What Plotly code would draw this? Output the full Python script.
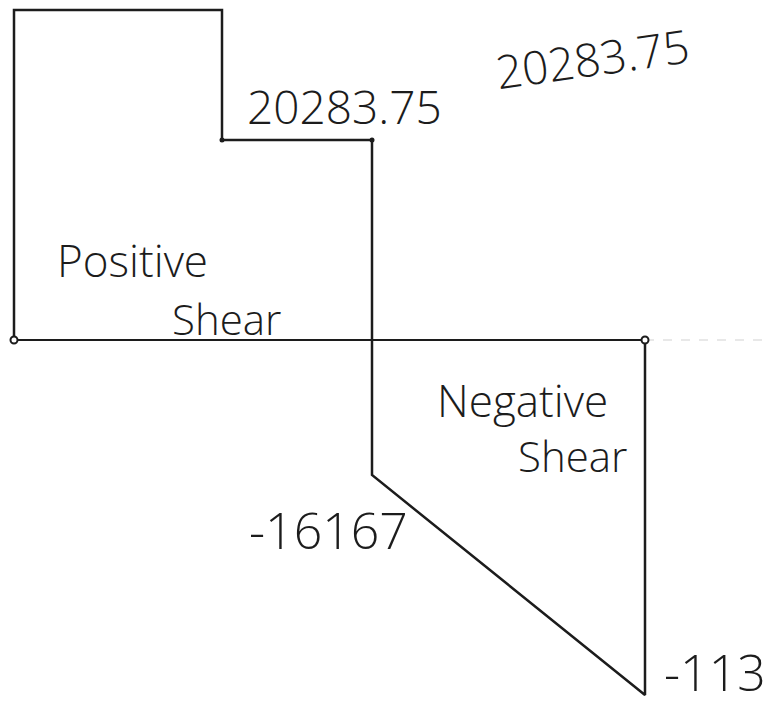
import plotly.graph_objects as go

# Beam stations (distance from the left support, drawing units)
stations = [0, 208, 358, 631]
# Shear levels of the sketch (drawing units, positive up)
shear_left = 330       # first span
shear_step = 200       # after the first drop
shear_jump = -135      # just right of the third station
shear_end = -355       # at the right support
baseline_extension = 125

value_labels = ["20283.75", "20283.75", "-16167", "-113"]
region_words = ["Positive", "Shear", "Negative", "Shear"]

ink = "#1c1c1c"

x_outline = [stations[0], stations[0], stations[1], stations[1],
             stations[2], stations[2], stations[3], stations[3]]
y_outline = [0, shear_left, shear_left, shear_step,
             shear_step, shear_jump, shear_end, 0]

fig = go.Figure()

# zero line of the diagram
fig.add_trace(go.Scatter(
    x=[stations[0], stations[3]], y=[0, 0], mode="lines",
    line=dict(color=ink, width=2.2), hoverinfo="skip", showlegend=False))
fig.add_trace(go.Scatter(
    x=[stations[3], stations[3] + baseline_extension], y=[0, 0], mode="lines",
    line=dict(color="#d2d2d2", width=1.2, dash="dash"),
    hoverinfo="skip", showlegend=False))

# shear outline
fig.add_trace(go.Scatter(
    x=x_outline, y=y_outline, mode="lines",
    line=dict(color=ink, width=2.5), hoverinfo="skip", showlegend=False))

# support and step points
fig.add_trace(go.Scatter(
    x=[stations[0], stations[3]], y=[0, 0], mode="markers",
    marker=dict(size=7, color="white", line=dict(color=ink, width=2)),
    hoverinfo="skip", showlegend=False))
fig.add_trace(go.Scatter(
    x=[stations[1], stations[2]], y=[shear_step, shear_step], mode="markers",
    marker=dict(size=5, color=ink), hoverinfo="skip", showlegend=False))

font_main = "Open Sans"

def note(x, y, text, size, angle=0):
    fig.add_annotation(x=x, y=y, xref="x", yref="y", text=text,
                       showarrow=False, textangle=angle,
                       font=dict(family=font_main, size=size, color=ink,
                                 weight=300))

note(330, 234, value_labels[0], 46)
note(578, 282, value_labels[1], 46, angle=-8)
note(314, -190, value_labels[2], 50)
note(701, -332, value_labels[3], 50)
note(118, 80, region_words[0], 44)
note(212, 22, region_words[1], 42)
note(508, -60, region_words[2], 44)
note(558, -115, region_words[3], 42)

fig.update_layout(
    width=770, height=706,
    margin=dict(l=0, r=0, t=0, b=0),
    paper_bgcolor="white", plot_bgcolor="white",
    xaxis=dict(range=[-14, 756], visible=False, fixedrange=True),
    yaxis=dict(range=[-366, 340], visible=False, fixedrange=True),
)

fig.write_html("out.html")
